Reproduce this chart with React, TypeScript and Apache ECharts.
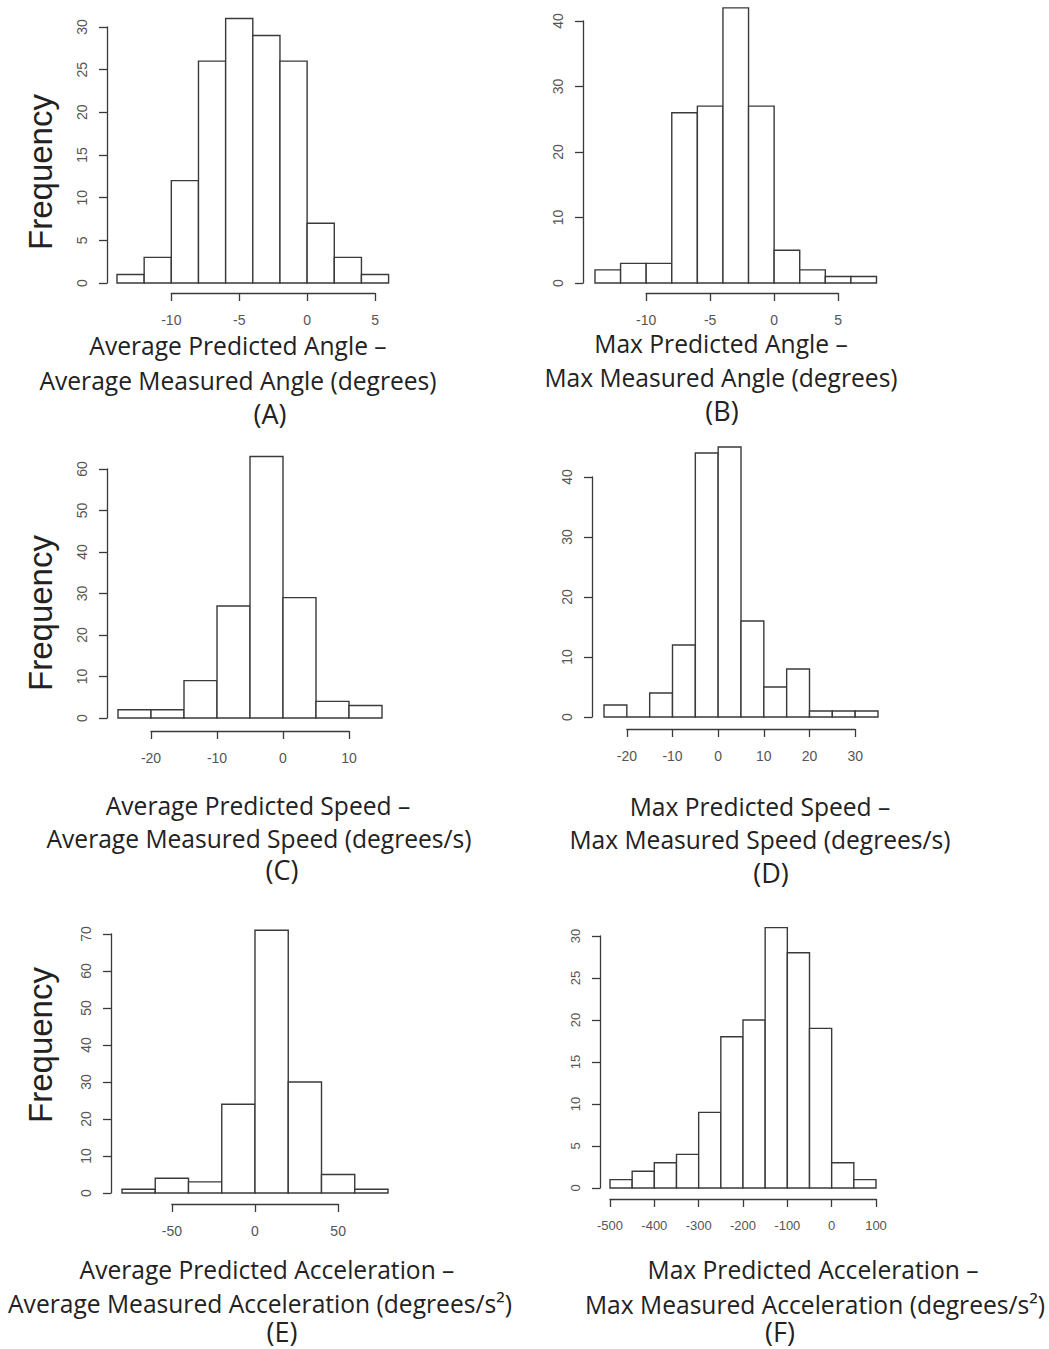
import React, { useEffect, useRef } from "react";
import * as echarts from "echarts";

// ---------- data ----------
const edgesA = [-14, -12, -10, -8, -6, -4, -2, 0, 2, 4, 6];
const countsA = [1, 3, 12, 26, 31, 29, 26, 7, 3, 1];
const xTicksA = [-10, -5, 0, 5];
const yTicksA = [0, 5, 10, 15, 20, 25, 30];

const edgesB = [-14, -12, -10, -8, -6, -4, -2, 0, 2, 4, 6, 8];
const countsB = [2, 3, 3, 26, 27, 42, 27, 5, 2, 1, 1];
const xTicksB = [-10, -5, 0, 5];
const yTicksB = [0, 10, 20, 30, 40];

const edgesC = [-25, -20, -15, -10, -5, 0, 5, 10, 15];
const countsC = [2, 2, 9, 27, 63, 29, 4, 3];
const xTicksC = [-20, -10, 0, 10];
const yTicksC = [0, 10, 20, 30, 40, 50, 60];

const edgesD = [-25, -20, -15, -10, -5, 0, 5, 10, 15, 20, 25, 30, 35];
const countsD = [2, 0, 4, 12, 44, 45, 16, 5, 8, 1, 1, 1];
const xTicksD = [-20, -10, 0, 10, 20, 30];
const yTicksD = [0, 10, 20, 30, 40];

const edgesE = [-80, -60, -40, -20, 0, 20, 40, 60, 80];
const countsE = [1, 4, 3, 24, 71, 30, 5, 1];
const xTicksE = [-50, 0, 50];
const yTicksE = [0, 10, 20, 30, 40, 50, 60, 70];

const edgesF = [-500, -450, -400, -350, -300, -250, -200, -150, -100, -50, 0, 50, 100];
const countsF = [1, 2, 3, 4, 9, 18, 20, 31, 28, 19, 3, 1];
const xTicksF = [-500, -400, -300, -200, -100, 0, 100];
const yTicksF = [0, 5, 10, 15, 20, 25, 30];

const titlesA = ["Average Predicted Angle \u2013", "Average Measured Angle (degrees)"];
const titlesB = ["Max Predicted Angle \u2013", "Max Measured Angle (degrees)"];
const titlesC = ["Average Predicted Speed \u2013", "Average Measured Speed (degrees/s)"];
const titlesD = ["Max Predicted Speed \u2013", "Max Measured Speed (degrees/s)"];
const titlesE = ["Average Predicted Acceleration \u2013", "Average Measured Acceleration (degrees/s\u00b2)"];
const titlesF = ["Max Predicted Acceleration \u2013", "Max Measured Acceleration (degrees/s\u00b2)"];
const letters = ["(A)", "(B)", "(C)", "(D)", "(E)", "(F)"];
const yAxisName = "Frequency";

// ---------- layout ----------
const panels = [
  { edges: edgesA, counts: countsA, xTicks: xTicksA, yTicks: yTicksA, titles: titlesA,
    g: { left: 117, top: 27, width: 271.6, height: 256 }, yOff: 10, xOff: 10,
    t1: [238, 345], t2: [238, 380], tl: [270, 413], freq: [40, 172], font: 14 },
  { edges: edgesB, counts: countsB, xTicks: xTicksB, yTicks: yTicksB, titles: titlesB,
    g: { left: 595, top: 21, width: 281.5, height: 262 }, yOff: 12, xOff: 10,
    t1: [721, 343], t2: [721, 377], tl: [722, 410], freq: null, font: 14 },
  { edges: edgesC, counts: countsC, xTicks: xTicksC, yTicks: yTicksC, titles: titlesC,
    g: { left: 118, top: 469, width: 264, height: 249 }, yOff: 11, xOff: 13,
    t1: [258, 805], t2: [259, 838], tl: [282, 869], freq: [40, 613], font: 14 },
  { edges: edgesD, counts: countsD, xTicks: xTicksD, yTicks: yTicksD, titles: titlesD,
    g: { left: 604, top: 477, width: 274, height: 240 }, yOff: 12, xOff: 12,
    t1: [760, 806], t2: [760, 839], tl: [771, 872], freq: null, font: 14 },
  { edges: edgesE, counts: countsE, xTicks: xTicksE, yTicks: yTicksE, titles: titlesE,
    g: { left: 122, top: 934, width: 266, height: 259 }, yOff: 11, xOff: 11,
    t1: [267, 1269], t2: [260, 1303], tl: [282, 1331], freq: [40, 1045], font: 14 },
  { edges: edgesF, counts: countsF, xTicks: xTicksF, yTicks: yTicksF, titles: titlesF,
    g: { left: 610, top: 936, width: 266, height: 252 }, yOff: 10, xOff: 11,
    t1: [813, 1269], t2: [815, 1304], tl: [780, 1331], freq: null, font: 13 },
];

const LINE = "#3a3a3a";
const LABEL = "#555";
const RFONT = "Liberation Sans";
const TFONT = "Open Sans";
const TSIZE = 24.6;
const LSIZE = 27;

function buildOption() {
  const grid: any[] = [];
  const xAxis: any[] = [];
  const yAxis: any[] = [];
  const series: any[] = [];
  const graphic: any[] = [];

  panels.forEach((p, i) => {
    const lo = p.edges[0];
    const hi = p.edges[p.edges.length - 1];
    const range = hi - lo;
    grid.push({ left: p.g.left, top: p.g.top, width: p.g.width, height: p.g.height, containLabel: false });
    const tLo = p.xTicks[0];
    const tHi = p.xTicks[p.xTicks.length - 1];
    grid.push({
      left: p.g.left + ((tLo - lo) / range) * p.g.width,
      top: p.g.top,
      width: ((tHi - tLo) / range) * p.g.width,
      height: p.g.height,
      containLabel: false,
    });
    const gMain = 2 * i;
    const gTick = 2 * i + 1;

    xAxis.push({ gridIndex: gMain, type: "value", min: lo, max: hi, show: false, axisLine: { onZero: false } });
    xAxis.push({
      gridIndex: gTick, type: "value", position: "bottom",
      min: tLo, max: tHi, interval: p.xTicks[1] - p.xTicks[0], offset: p.xOff,
      axisLine: { show: true, onZero: false, lineStyle: { color: LINE, width: 1.3 } },
      axisTick: { show: true, length: 8, lineStyle: { color: LINE, width: 1.3 } },
      axisLabel: { show: true, margin: 20, color: LABEL, fontFamily: RFONT, fontSize: p.font, showMinLabel: true, showMaxLabel: true },
      splitLine: { show: false },
    });
    const yMax = p.yTicks[p.yTicks.length - 1];
    yAxis.push({
      gridIndex: gMain, type: "value", position: "left",
      min: p.yTicks[0], max: yMax, interval: p.yTicks[1] - p.yTicks[0], offset: p.yOff,
      axisLine: { show: true, onZero: false, lineStyle: { color: LINE, width: 1.3 } },
      axisTick: { show: true, length: 8, lineStyle: { color: LINE, width: 1.3 } },
      axisLabel: { show: true, rotate: 90, margin: 18, color: LABEL, fontFamily: RFONT, fontSize: p.font, showMinLabel: true, showMaxLabel: true },
      splitLine: { show: false },
    });
    yAxis.push({ gridIndex: gTick, type: "value", min: 0, max: 1, show: false, axisLine: { onZero: false } });

    const data = p.counts.map((c, k) => [p.edges[k], p.edges[k + 1], c]);
    series.push({
      type: "custom",
      xAxisIndex: gMain,
      yAxisIndex: gMain,
      clip: false,
      encode: { x: [0, 1], y: 2 },
      data,
      renderItem: (_params: any, api: any) => {
        const x0 = api.value(0);
        const x1 = api.value(1);
        const c = api.value(2);
        const pTop = api.coord([x0, c]);
        const pBot = api.coord([x1, 0]);
        return {
          type: "rect",
          shape: { x: pTop[0], y: pTop[1], width: pBot[0] - pTop[0], height: pBot[1] - pTop[1] },
          style: { fill: "#ffffff", stroke: LINE, lineWidth: 1.4 },
        };
      },
    });

    graphic.push({
      type: "text", x: p.t1[0], y: p.t1[1],
      style: { text: p.titles[0], fontFamily: TFONT, fontSize: TSIZE, lineHeight: TSIZE, fill: "#222", align: "center", verticalAlign: "middle" },
    });
    graphic.push({
      type: "text", x: p.t2[0], y: p.t2[1],
      style: { text: p.titles[1], fontFamily: TFONT, fontSize: TSIZE, lineHeight: TSIZE, fill: "#222", align: "center", verticalAlign: "middle" },
    });
    graphic.push({
      type: "text", x: p.tl[0], y: p.tl[1],
      style: { text: letters[i], fontFamily: TFONT, fontSize: LSIZE, lineHeight: LSIZE - 4, fill: "#222", align: "center", verticalAlign: "middle" },
    });
    if (p.freq) {
      graphic.push({
        type: "text", x: p.freq[0], y: p.freq[1], rotation: Math.PI / 2,
        style: { text: yAxisName, fontFamily: RFONT, fontSize: 33, lineHeight: 33, fill: "#222", align: "center", verticalAlign: "middle" },
      });
    }
  });

  return {
    animation: false,
    backgroundColor: "#ffffff",
    grid,
    xAxis,
    yAxis,
    series,
    graphic,
  };
}

export default function App() {
  const ref = useRef<HTMLDivElement>(null);
  useEffect(() => {
    document.body.style.margin = "0";
    if (!ref.current) return;
    const chart = echarts.init(ref.current, undefined, { renderer: "svg" });
    chart.setOption(buildOption() as any);
    return () => chart.dispose();
  }, []);
  return <div ref={ref} style={{ width: 1049, height: 1349 }} />;
}
